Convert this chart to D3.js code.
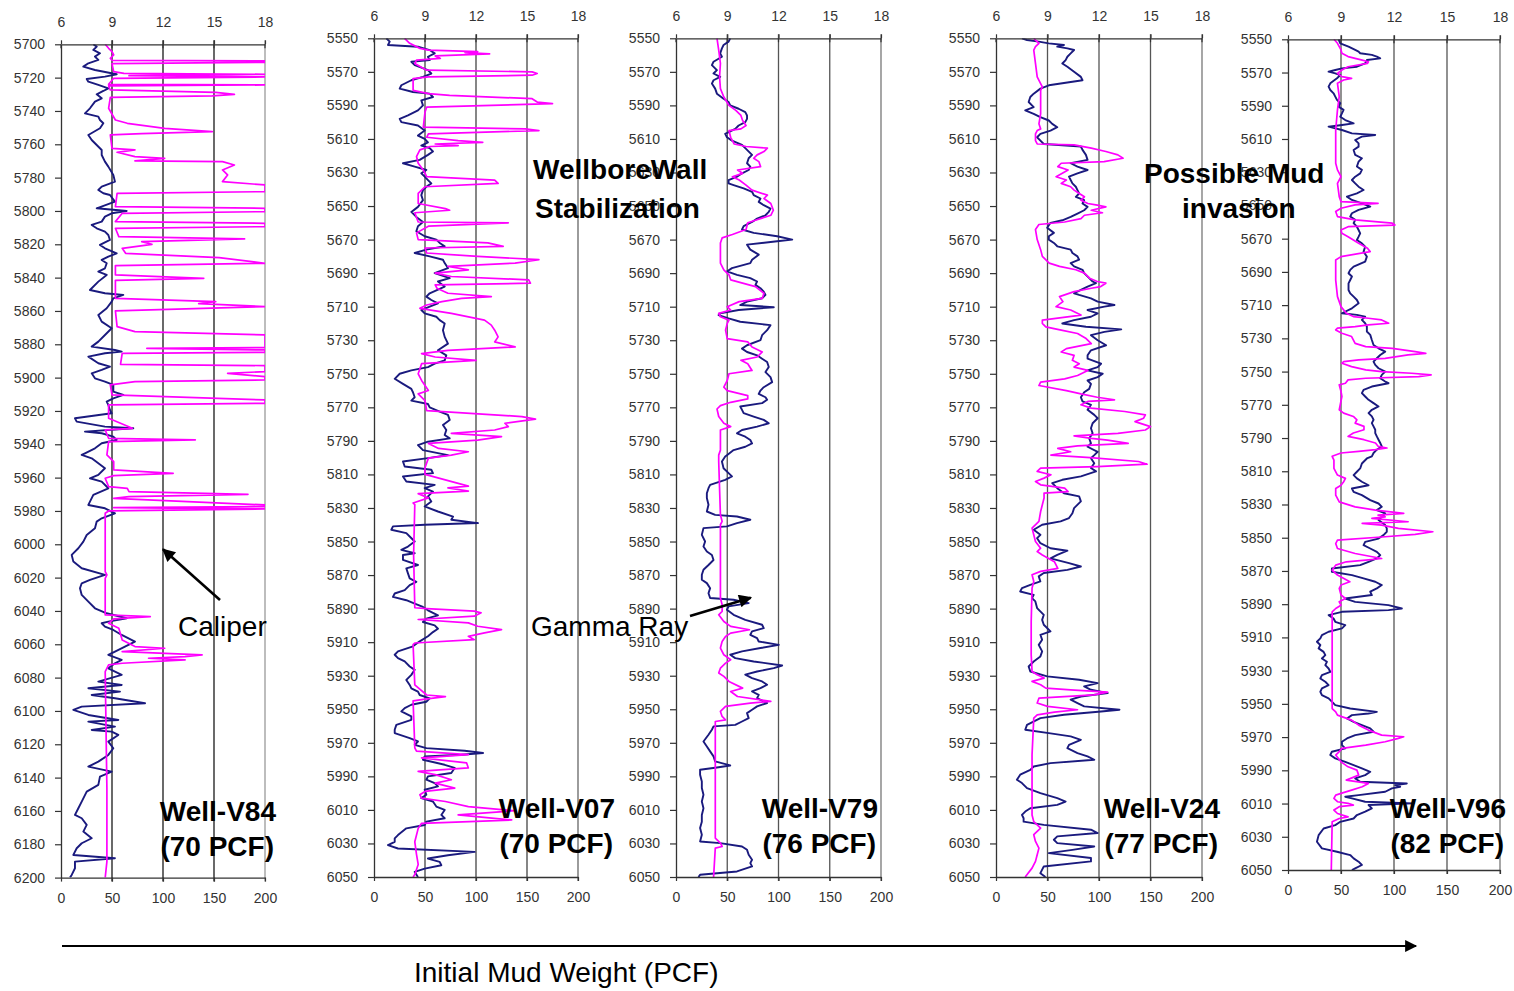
<!DOCTYPE html>
<html><head><meta charset="utf-8">
<script src="https://cdn.jsdelivr.net/npm/d3@7"></script>
<style>
body{margin:0;background:#fff}
svg{display:block}
text{font-family:"Liberation Sans",Arial,Helvetica,sans-serif}
</style>
</head><body>
<svg id="chart" width="1514" height="991"></svg>
<script>
// ---------------- DATA ----------------
const wellNames = ["Well-V84","Well-V07","Well-V79","Well-V24","Well-V96"];
const mudWeights = ["(70 PCF)","(70 PCF)","(76 PCF)","(77 PCF)","(82 PCF)"];
const depthTicksV84 = [5700,5720,5740,5760,5780,5800,5820,5840,5860,5880,5900,5920,5940,5960,5980,6000,6020,6040,6060,6080,6100,6120,6140,6160,6180,6200];
const depthTicksOther = [5550,5570,5590,5610,5630,5650,5670,5690,5710,5730,5750,5770,5790,5810,5830,5850,5870,5890,5910,5930,5950,5970,5990,6010,6030,6050];
const caliperTicks = [6,9,12,15,18];      // inches (top axis)
const gammaTicks = [0,50,100,150,200];    // API (bottom axis)

// [depth ft, caliper in]
const v84Caliper = [[5700,8.6],[5702.4,8.8],[5704.4,9.0],[5706.4,9.1],[5708.4,8.9],[5709.6,9.0],[5710,18],[5710.8,18],[5711.6,9.0],[5716.4,9.1],[5717.4,9.7],[5718,18],[5718.8,10.0],[5719.6,18],[5720.4,9.1],[5724,8.8],[5724.4,18],[5725,8.8],[5727.4,8.9],[5728.8,15.1],[5730,16.2],[5731,14.9],[5731.8,8.9],[5738.4,8.8],[5745.4,9.2],[5747.4,9.9],[5750.4,12.1],[5752.4,14.9],[5753.6,10.75],[5754.4,8.9],[5762.4,9.0],[5763.4,10.35],[5764.8,9.3],[5767.4,10.35],[5768.4,12.1],[5770,10.35],[5770.4,15.5],[5772.4,16.2],[5775.4,15.5],[5778.4,15.8],[5782.4,15.5],[5784.4,18],[5788.4,18],[5789.4,9.3],[5797.4,9.2],[5798.4,18],[5800.4,18],[5801.4,9.6],[5806.4,9.2],[5807.4,18],[5809.4,18],[5810.4,9.2],[5815.4,9.4],[5816.8,16.8],[5818.4,10.75],[5820,11.35],[5822.4,9.6],[5825.4,9.8],[5828,15.3],[5831.4,18],[5832.8,9.2],[5838.4,9.2],[5840.4,14.4],[5841.6,9.2],[5852.4,9.2],[5854.4,15.1],[5855.6,14.1],[5857.4,18],[5860,9.2],[5869.4,9.3],[5872.4,10.35],[5874.4,18],[5882,18],[5882.4,11.05],[5883.4,18],[5884.8,18],[5885.4,9.6],[5892,9.5],[5892.8,18],[5896.4,18],[5897.4,15.8],[5899.4,18],[5901.4,18],[5902.4,10.35],[5904.4,8.9],[5910.4,9.0],[5913.4,18],[5915.4,18],[5916.4,8.8],[5924.4,8.8],[5930.4,10.2],[5931.4,8.6],[5936.4,8.8],[5937.4,13.9],[5938.4,8.8],[5946.4,8.7],[5950.4,9.1],[5955.4,9.1],[5957.4,12.6],[5958.8,9.1],[5960.4,8.6],[5965.4,8.8],[5966.4,9.9],[5968.4,10.0],[5970,17.0],[5971.4,10.0],[5972.4,9.1],[5976.4,18],[5977.4,18],[5978,9.1],[5978.8,18],[5980,8.8],[5981.4,8.6],[6016.4,8.6],[6018.4,8.7],[6020.4,8.6],[6042.4,8.6],[6043.4,11.25],[6044.8,9.1],[6047.4,8.8],[6050.4,9.4],[6057.4,9.6],[6061.4,10.35],[6062.4,12.1],[6064.4,9.6],[6066.4,14.3],[6067.4,13.3],[6068.4,11.15],[6069.4,13.3],[6071.4,9.6],[6072.4,8.8],[6076.4,8.6],[6146.4,8.7],[6190.4,8.7],[6200,8.6]];
// [depth ft, gamma API]
const v84Gamma = [[5700,31.7],[5701.4,35],[5703.4,31.7],[5705.4,38.2],[5707.4,33.3],[5709.4,36.6],[5711.4,26.8],[5713.4,21.9],[5715.4,33.3],[5718,54.6],[5719.4,43.1],[5720.8,25.2],[5722.4,26.8],[5724.4,36.6],[5726.4,46.4],[5728,41.5],[5730,35],[5732.4,39.9],[5734.4,33.3],[5738.4,28.4],[5741.4,23.5],[5743.4,36.6],[5745.4,38.2],[5747.4,41.5],[5750.4,38.2],[5754.4,26.8],[5757.4,30.1],[5760.4,35],[5763.4,39.9],[5766.4,39.9],[5770.4,43.1],[5773.4,46.4],[5778.4,51.3],[5782.4,52.9],[5785.4,39.9],[5787.4,36.6],[5789.4,41.5],[5790.4,48],[5794.4,52.9],[5798.4,35],[5800,64.4],[5801.4,49.7],[5803.4,43.1],[5806.4,39.9],[5808.4,30.1],[5810.4,35],[5812.4,43.1],[5814.4,46.4],[5817.4,48],[5820.4,38.2],[5822.4,43.1],[5825.4,54.6],[5827.4,46.4],[5829.4,39.9],[5831.4,44.8],[5834.4,43.1],[5836.4,36.6],[5838.4,44.8],[5842.4,36.6],[5847.4,28.4],[5849.4,43.1],[5850.4,61.1],[5852.4,51.3],[5854.4,49.7],[5858.4,44.8],[5862.4,36.6],[5866.4,39.9],[5870.4,49.7],[5874.4,43.1],[5878.4,36.6],[5881.4,30.1],[5883.4,52.9],[5884.4,59.5],[5885.4,43.1],[5887.4,26.8],[5891.4,36.6],[5893.4,48],[5895.4,39.9],[5897.4,30.1],[5900.4,33.3],[5902.4,43.1],[5904.4,51.3],[5908.4,51.3],[5910.4,61.1],[5912.4,51.3],[5914.4,44.8],[5916.4,46.4],[5919.4,48],[5921.4,49.7],[5924.4,13.7],[5926.4,15.4],[5929.4,43.1],[5930.4,70.9],[5932.4,23.5],[5933.4,39.9],[5935.4,51.3],[5937.4,54.6],[5939.4,39.9],[5942.4,33.3],[5945.4,23.5],[5946.4,20.3],[5948.4,30.1],[5954.4,43.1],[5958.4,36.6],[5960.4,28.4],[5962.4,39.9],[5966.4,46.4],[5970.4,31.7],[5976.4,26.8],[5978.4,43.1],[5981.4,52.9],[5984.4,39.9],[5986.4,35],[5990.4,33.3],[5994.4,25.2],[5998.4,21.9],[6002.4,17],[6006.4,10.5],[6010.4,12.1],[6014.4,20.3],[6018.4,43.1],[6021.4,28.4],[6023.4,20.3],[6026.4,18.6],[6030.4,20.3],[6034.4,26.8],[6038.4,33.3],[6041.4,44.8],[6044.4,64.4],[6046.4,46.4],[6047.4,39.9],[6049.4,43.1],[6051.4,51.3],[6054.4,59.5],[6058.4,72.5],[6061.4,62.7],[6064.4,52.9],[6066.4,46.4],[6069.4,59.5],[6071.4,52.9],[6074.4,46.4],[6078.4,59.5],[6082.4,36.6],[6084.4,59.5],[6086.4,26.8],[6088.4,57.8],[6090.4,30.1],[6092.4,52.9],[6095.4,82.4],[6097.4,20.3],[6099.4,12.1],[6102.4,26.8],[6105.4,56.2],[6106.4,26.8],[6109.4,52.9],[6111.4,30.1],[6112.4,49.7],[6114.4,56.2],[6118.4,46.4],[6122.4,51.3],[6126.4,46.4],[6130.4,36.6],[6133.4,26.8],[6136.4,49.7],[6139.4,38.2],[6144.4,36.6],[6148.4,25.2],[6154.4,20.3],[6158.4,17],[6162.4,13.7],[6164.4,20.3],[6168.4,25.2],[6172.4,21.9],[6176.4,30.1],[6179.4,20.3],[6182.4,15.4],[6186.4,12.1],[6188.4,52.9],[6190.4,13.7],[6194.4,13.7],[6198.4,10.5],[6200,8.8]];

const v07Caliper = [[5550,7.8],[5553,8.1],[5556,8.7],[5557,9.2],[5558,12.1],[5558.5,11.35],[5559.3,12.8],[5560.5,9.6],[5562,9.9],[5563,8.5],[5565,8.4],[5569,9.1],[5570,15.3],[5571,15.6],[5572,15.3],[5573,9.2],[5574,8.3],[5581,8.3],[5583,9.2],[5584,10.45],[5586,15.3],[5588,15.6],[5589,16.5],[5591,9.1],[5594,9.0],[5603,8.9],[5604,14.9],[5605,15.7],[5607,9.2],[5609,9.1],[5611,10.95],[5612,12.4],[5613,9.6],[5614,10.95],[5614.5,9.3],[5616.5,8.7],[5620.5,8.5],[5624.5,8.6],[5628.5,8.9],[5632.5,9.1],[5634.5,13.1],[5636.5,13.3],[5638.5,9.0],[5642.5,8.6],[5648.5,8.6],[5651.5,10.2],[5652.5,10.45],[5654,8.4],[5659.5,8.6],[5660,13.9],[5662,9.2],[5666,8.5],[5670,8.6],[5672,12.7],[5674,13.6],[5675,9.0],[5678,9.1],[5680,12.1],[5682,15.7],[5684,14.3],[5686,10.35],[5688,11.55],[5690,9.6],[5692,10.55],[5694,15.1],[5696,15.2],[5697,9.6],[5699,9.7],[5702,10.35],[5704,12.9],[5705,11.15],[5707,10.0],[5709,9.1],[5711,8.7],[5714,10.55],[5718,12.5],[5721,12.9],[5724,13.1],[5728,13.3],[5731,13.1],[5734,14.3],[5736,10.35],[5738,8.8],[5740,9.6],[5742,12.0],[5744,8.8],[5750,8.6],[5754,8.8],[5760,9.2],[5762,8.6],[5766,9.0],[5772,9.1],[5775.5,14.7],[5777,15.5],[5779.5,13.7],[5781.5,13.9],[5783.5,13.1],[5785.5,10.55],[5787.5,13.5],[5789.5,12.1],[5791.5,9.2],[5794.5,9.8],[5796.5,11.55],[5798.5,10.55],[5800.3,9.2],[5806,9.0],[5810,9.0],[5817,11.55],[5818,10.35],[5820,11.55],[5821.5,8.6],[5824,9.2],[5827,8.3],[5828,8.4],[5858,8.33],[5889.5,8.4],[5890,9.1],[5891.5,11.9],[5892.5,12.3],[5894.5,11.9],[5896.5,8.6],[5898.5,11.55],[5900.5,12.1],[5902.5,13.5],[5904.5,12.5],[5906.5,11.55],[5908.5,11.9],[5910.5,8.4],[5911.5,8.3],[5935.5,8.4],[5941.5,9.1],[5942.5,10.2],[5944,9.0],[5945,8.3],[5973,8.4],[5975,8.5],[5977,11.55],[5979,8.8],[5982,11.45],[5985,11.55],[5987,8.6],[5989,9.6],[5992,10.55],[5994,9.6],[5997,10.75],[5999,9.0],[6001,8.7],[6003,8.8],[6005,10.2],[6008,11.55],[6010.5,14.3],[6013,10.95],[6016,14.1],[6018,8.8],[6021,8.6],[6029,8.4],[6036.5,8.5],[6042.5,8.6],[6048.5,8.4],[6050,8.3]];
const v07Gamma = [[5550,12.1],[5552,15.4],[5554,13.7],[5555,43.1],[5557,54.6],[5559,59.5],[5561,52.9],[5563,54.6],[5564,36.6],[5566,39.9],[5569,52.9],[5571,56.2],[5573,48],[5575,36.6],[5578,26.8],[5580,25.2],[5582,38.2],[5583,54.6],[5585,57.8],[5587,46.4],[5590,48],[5593,43.1],[5596,33.3],[5598,25.2],[5600,26.8],[5602,43.1],[5605,49.7],[5608,43.1],[5610,49.7],[5612,52.9],[5614,46.4],[5615.5,54.6],[5617.5,57.8],[5619.5,52.9],[5622.5,44.8],[5624.5,28.4],[5626.5,39.9],[5628.5,51.3],[5630.5,46.4],[5632.5,49.7],[5634.5,52.9],[5636.5,56.2],[5638.5,51.3],[5640.5,48],[5643.5,46.4],[5646.5,48],[5650.5,43.1],[5653.5,36.6],[5656.5,41.5],[5659.5,48],[5662,43.1],[5665,41.5],[5668,49.7],[5670,61.1],[5672,64.4],[5674,69.3],[5676,51.3],[5678,39.9],[5680,54.6],[5682,67.6],[5684,69.3],[5687,72.5],[5690,59.5],[5693,74.2],[5695,62.7],[5698,69.3],[5702,54.6],[5704,51.3],[5706,56.2],[5708,62.7],[5710,54.6],[5712,46.4],[5714,49.7],[5716,61.1],[5718,64.4],[5720,69.3],[5724,67.6],[5728,69.3],[5732,72.5],[5736,62.7],[5739,70.9],[5742,69.3],[5744,59.5],[5746,52.9],[5748,36.6],[5750,25.2],[5753,20.3],[5756,28.4],[5759,36.6],[5761,38.2],[5764,39.9],[5766,36.6],[5768,52.9],[5770,54.6],[5772.5,64.4],[5774.5,72.5],[5777.5,74.2],[5780.5,67.6],[5783.5,70.9],[5786.5,69.3],[5788.5,74.2],[5790.5,52.9],[5792.5,43.1],[5795.5,48],[5798.5,72.5],[5800.3,52.9],[5802.3,28.4],[5805.3,30.1],[5807.2,56.2],[5809.2,57.8],[5811.2,28.4],[5814.2,31.7],[5816.2,59.5],[5818.2,49.7],[5820.2,57.8],[5823.1,52.9],[5826.1,56.2],[5829.1,49.7],[5832.1,62.7],[5835.1,77.5],[5837,75.8],[5839,102],[5840,49.7],[5841,18.6],[5843,17],[5845,31.7],[5847,35],[5850,39.9],[5853,33.3],[5855,26.8],[5857,39.9],[5858,28.4],[5861,28.4],[5864,43.1],[5866,31.7],[5869,33.3],[5872,35],[5874,41.5],[5876,35],[5879,30.1],[5881,20.3],[5883,18.6],[5885,31.7],[5887,39.9],[5889,48],[5891,52.9],[5894,62.7],[5896,51.3],[5898,48],[5900,59.5],[5902,62.7],[5904,57.8],[5906.5,52.9],[5909.5,44.8],[5912.5,38.2],[5915.5,23.5],[5917.5,20.3],[5919.5,23.5],[5921.5,30.1],[5924.5,35],[5926.5,39.9],[5929.5,36.6],[5932.5,31.7],[5935.5,35],[5937.5,36.6],[5939.5,43.1],[5941.5,44.8],[5943.5,54.6],[5945.5,51.3],[5947.3,36.6],[5949.3,30.1],[5951.3,26.8],[5954.3,36.6],[5956.3,36.6],[5959.3,21.9],[5962.2,20.3],[5964.2,20.3],[5967.2,35],[5969.2,43.1],[5971.2,39.9],[5973.2,51.3],[5974.7,88.9],[5976.1,106.9],[5977.1,85.6],[5978.1,49.7],[5980.1,48],[5983.1,69.3],[5985,79.1],[5988,75.8],[5990,52.9],[5992,51.3],[5994,59.5],[5996,62.7],[5998,49.7],[6001,51.3],[6003,46.4],[6005,57.8],[6008,61.1],[6010,69.3],[6013,66],[6015,69.3],[6017,51.3],[6019,49.7],[6021,31.7],[6025,23.5],[6027,20.3],[6029,20.3],[6031,13.7],[6033,23.5],[6035,98.7],[6037,72.5],[6039,52.9],[6041,64.4],[6043,66],[6045,49.7],[6047,39.9],[6050,43.1]];

const v79Caliper = [[5550,8.4],[5557,8.5],[5565,8.6],[5573,8.55],[5580,8.6],[5585,8.8],[5590,9.1],[5593,9.5],[5596,9.8],[5599,9.9],[5602,10.1],[5604,9.8],[5605,9.1],[5609,9.2],[5613,9.4],[5614.5,10.1],[5615.5,11.35],[5617.5,11.15],[5619.5,10.75],[5621.5,10.55],[5623.5,10.85],[5626.5,10.95],[5628.5,9.6],[5630.5,9.9],[5632.5,9.3],[5634.5,9.7],[5637.5,10.1],[5640.5,10.45],[5643.5,11.35],[5645.5,11.15],[5648.5,11.55],[5652.5,11.7],[5655.5,11.55],[5658.5,10.65],[5660,10.2],[5664,10.1],[5667,9.3],[5669,8.7],[5672,8.6],[5684,8.6],[5688,8.8],[5691,9.1],[5694,9.2],[5698,10.65],[5702,11.15],[5705,11.05],[5707,9.7],[5710,9.0],[5712,9.2],[5714,8.5],[5716,8.6],[5718,9.1],[5720,9.0],[5724,8.9],[5729,9.0],[5731,10.2],[5734,10.45],[5737,11.05],[5740,10.75],[5742,9.8],[5744,10.2],[5748,10.45],[5750,9.1],[5754,9.0],[5758,8.8],[5760,9.0],[5763,10.2],[5765,10.2],[5767,9.2],[5769,8.6],[5771,8.4],[5775.5,8.5],[5779.5,8.8],[5781.5,9.2],[5783.5,8.6],[5795.5,8.6],[5798.5,8.5],[5802.3,8.5],[5834,8.6],[5838,8.7],[5840,8.6],[5883.7,8.6],[5887.7,8.7],[5891.7,8.7],[5893.7,8.5],[5897.7,8.8],[5900.6,9.2],[5902.6,10.3],[5904.6,9.2],[5906.6,8.9],[5909.6,8.7],[5913.5,8.6],[5917.5,8.8],[5920.5,9.2],[5922.5,8.9],[5925.5,8.6],[5928.4,8.5],[5930.4,8.8],[5933.4,9.1],[5937.4,9.9],[5939.4,9.2],[5942.4,9.6],[5945.3,11.55],[5946.3,10.35],[5948.3,8.9],[5951.3,8.6],[5954.3,8.7],[5956.3,8.9],[5957.3,8.3],[6026.8,8.3],[6029.8,8.6],[6031.8,8.7],[6032.8,8.3],[6050,8.2]];
const v79Gamma = [[5550,52.9],[5552,51.3],[5554,46.4],[5556,44.8],[5559,43.1],[5561,44.8],[5564,36.6],[5566,35],[5569,39.9],[5571,36.6],[5573,43.1],[5575,36.6],[5577,35],[5580,38.2],[5583,39.9],[5586,46.4],[5588,51.3],[5590,52.9],[5592,61.1],[5594,67.6],[5596,69.3],[5598,69.3],[5600,67.6],[5602,61.1],[5604,57.8],[5607,48],[5609,49.7],[5611,54.6],[5613.5,64.4],[5616.5,69.3],[5619.5,74.2],[5621.5,70.9],[5624.5,69.3],[5626.5,72.5],[5628.5,70.9],[5630.5,64.4],[5632.5,59.5],[5634.5,51.3],[5636.5,51.3],[5637.5,56.2],[5639.5,66],[5641.5,74.2],[5643.5,75.8],[5645.5,82.4],[5647.5,80.7],[5649.5,85.6],[5651.5,92.2],[5653.5,90.5],[5655.5,87.3],[5657.5,79.1],[5659.5,74.2],[5662,66],[5664,64.4],[5666,75.8],[5668,98.7],[5670,113.4],[5671,98.7],[5673,69.3],[5676,72.5],[5679,80.7],[5682,74.2],[5684,72.5],[5687,54.6],[5689,49.7],[5691,59.5],[5693,72.5],[5695,79.1],[5697,77.5],[5699,82.4],[5701,85.6],[5703,87.3],[5705,84],[5707,69.3],[5709,62.7],[5710.3,95.4],[5712,61.1],[5714,43.1],[5715,41.5],[5717,51.3],[5719,62.7],[5721,92.2],[5724,88.9],[5727,84],[5730,82.4],[5733,69.3],[5735,64.4],[5737,69.3],[5739,79.1],[5741,84],[5743,88.9],[5746,90.5],[5749,87.3],[5752,92.2],[5755,93.8],[5758,85.6],[5760,82.4],[5762,80.7],[5764,87.3],[5765.5,88.9],[5767.5,84],[5769.5,62.7],[5771.5,64.4],[5773.5,66],[5775.5,75.8],[5777.5,85.6],[5779.5,90.5],[5781.5,79.1],[5783.5,64.4],[5785.5,59.5],[5787.5,67.6],[5789.5,72.5],[5791.5,74.2],[5793.5,67.6],[5795.5,56.2],[5798.5,49.7],[5799.3,48],[5802.3,44.8],[5806.3,46.4],[5809.2,51.3],[5811.2,54.6],[5813.2,48],[5816.2,33.3],[5818.2,31.7],[5821.2,30.1],[5824.1,30.1],[5828.1,31.7],[5832.1,30.1],[5834.1,38.2],[5835.1,59.5],[5837,72.5],[5839,59.5],[5841,49.7],[5842,26.8],[5846,25.2],[5850,28.4],[5853,26.8],[5856,30.1],[5858,35],[5861,36.6],[5864,31.7],[5866.8,26.8],[5869.8,25.2],[5872.8,25.2],[5874.8,30.1],[5877.8,33.3],[5880.8,31.7],[5883.7,33.3],[5884.7,56.2],[5886.7,70.9],[5888.7,51.3],[5890.7,49.7],[5893.7,56.2],[5896.7,67.6],[5899.6,84],[5901.6,85.6],[5903.6,74.2],[5905.6,72.5],[5907.6,79.1],[5909.6,80.7],[5911.6,100.3],[5913.5,82.4],[5915.5,64.4],[5917.5,52.9],[5919.5,57.8],[5921.5,75.8],[5923.9,103.6],[5925.5,95.4],[5927.5,79.1],[5929.4,67.6],[5931.4,74.2],[5933.4,84],[5935.4,88.9],[5937.4,82.4],[5939.4,74.2],[5941.4,80.7],[5943.4,79.1],[5945.3,85.6],[5946.3,88.9],[5948.3,79.1],[5950.3,74.2],[5952.3,69.3],[5955.3,70.9],[5957.3,64.4],[5959.3,57.8],[5960.2,36.6],[5962.2,35],[5965.2,31.7],[5969.2,26.8],[5972.2,30.1],[5975.1,33.3],[5978.1,36.6],[5981.1,38.2],[5983.5,52.9],[5984.7,39.9],[5986.1,23.5],[5989,23.5],[5993,25.2],[5997,25.2],[6001,26.8],[6005,25.2],[6009,26.8],[6013,25.2],[6017,25.2],[6020.8,23.5],[6024.8,25.2],[6028.8,23.5],[6029.8,43.1],[6031.8,64.4],[6033.8,69.3],[6036.7,70.9],[6039.7,74.2],[6041.7,72.5],[6043.7,74.2],[6046.7,59.5],[6048.7,23.5],[6050,21.9]];

const v24Caliper = [[5550,8.2],[5553,8.5],[5555,8.3],[5557,8.2],[5565,8.3],[5573,8.4],[5577,8.6],[5579,8.7],[5581,8.6],[5595,8.6],[5601,8.5],[5604,8.6],[5605,8.4],[5607,8.3],[5611,8.3],[5613,8.4],[5613.5,10.55],[5615.5,11.55],[5617.5,12.4],[5619.5,13.1],[5621.5,13.4],[5623.5,12.3],[5624.5,9.8],[5626.5,9.6],[5628.5,10.2],[5632.5,9.5],[5634.5,10.1],[5636.5,9.8],[5638.5,10.35],[5640.5,10.55],[5642.5,10.85],[5644.5,11.15],[5646.5,10.95],[5648.5,11.35],[5649.5,11.9],[5650.5,12.4],[5652.5,11.55],[5654,12.2],[5655.5,11.15],[5657.5,10.95],[5659.5,10.0],[5661,8.5],[5664,8.3],[5670,8.4],[5676,8.6],[5680,8.7],[5684,9.1],[5686,9.7],[5688,10.65],[5690,11.15],[5693,11.45],[5695,11.9],[5696,12.4],[5698,12.1],[5699,11.55],[5701,10.55],[5704,9.7],[5707,9.9],[5710,9.5],[5712,10.35],[5715,10.95],[5718,8.7],[5720,8.7],[5722,8.9],[5724,9.8],[5726,10.75],[5729,11.25],[5732,11.55],[5735,10.1],[5737,9.8],[5739,10.55],[5742,10.45],[5744,10.85],[5746,10.55],[5748,11.35],[5751,10.75],[5753,10.0],[5755,8.6],[5757,8.5],[5760,10.1],[5762,10.95],[5764,11.9],[5765.5,12.9],[5766.5,11.35],[5768.5,10.95],[5770.5,11.55],[5772.5,13.5],[5774.5,14.7],[5776.5,14.6],[5778.5,14.1],[5781.5,15.0],[5783.5,14.7],[5785.5,13.1],[5787,10.55],[5788.5,11.55],[5789.5,12.5],[5791.5,13.7],[5793,10.75],[5794.5,9.6],[5796.5,10.35],[5798.5,9.2],[5800,11.5],[5802.3,14.3],[5803.9,14.8],[5805.3,11.9],[5806.2,8.6],[5808.2,8.4],[5810.2,9.2],[5812.2,8.8],[5814.2,8.3],[5816.2,8.6],[5818.2,10.0],[5820.2,10.2],[5821.2,8.8],[5824.1,8.8],[5828.1,8.7],[5832.1,8.6],[5838,8.5],[5842,8.1],[5846,8.2],[5850,8.3],[5854,8.6],[5856,8.4],[5858,8.7],[5862,9.4],[5866,9.6],[5867.8,8.6],[5869.8,8.1],[5873.8,8.2],[5877.8,8.1],[5897.7,8.05],[5917.5,8.05],[5927.5,8.1],[5929.4,8.4],[5931.4,8.8],[5933.4,8.1],[5935.4,8.6],[5937.4,8.9],[5938.4,10.35],[5939.8,12.5],[5941.4,11.7],[5943.4,8.5],[5946.3,8.4],[5948.3,9.0],[5950.3,10.75],[5951.7,9.4],[5953.3,8.4],[5955.3,8.2],[5977.1,8.1],[5997,8.1],[6013,8.1],[6017,8.2],[6020.8,8.6],[6024.8,8.2],[6028.8,8.3],[6032.8,8.5],[6036.7,8.4],[6040.7,8.3],[6044.7,8.1],[6048.7,7.8],[6050,7.7]];
const v24Gamma = [[5550,25.2],[5551,30.1],[5552,41.5],[5553,51.3],[5554,66],[5555,59.5],[5556,69.3],[5557,75.8],[5559,72.5],[5561,69.3],[5563,67.6],[5565,64.4],[5567,69.3],[5570,75.8],[5573,82.4],[5575,84],[5578,51.3],[5580,43.1],[5583,36.6],[5585,33.3],[5588,31.7],[5591,36.6],[5593,28.4],[5595,36.6],[5597,43.1],[5599,51.3],[5601,54.6],[5603,59.5],[5605,52.9],[5607,43.1],[5609,39.9],[5611,43.1],[5613,46.4],[5614.5,82.4],[5616.5,84],[5619.5,87.3],[5622.5,88.9],[5624.5,72.5],[5626.5,79.1],[5628.5,88.9],[5630.5,79.1],[5632.5,70.9],[5634.5,72.5],[5636.5,74.2],[5638.5,77.5],[5640.5,79.1],[5642.5,80.7],[5644.5,77.5],[5646.5,85.6],[5648.5,84],[5650.5,88.9],[5652.5,85.6],[5654.5,79.1],[5656.5,72.5],[5658.5,64.4],[5660,52.9],[5663,49.7],[5666,56.2],[5668,51.3],[5670,51.3],[5672,56.2],[5674,59.5],[5676,72.5],[5678,74.2],[5680,79.1],[5682,80.7],[5684,72.5],[5686,75.8],[5688,84],[5690,85.6],[5693,90.5],[5695,93.8],[5696,97.1],[5698,88.9],[5700,82.4],[5702,75.8],[5703,80.7],[5705,92.2],[5707,98.7],[5709,115],[5710,105.2],[5712,88.9],[5714,98.7],[5716,92.2],[5718,75.8],[5720,64.4],[5722,87.3],[5723.5,121.6],[5725,105.2],[5727,92.2],[5730,98.7],[5733,106.9],[5736,92.2],[5739,88.9],[5741,88.9],[5744,102],[5746,98.7],[5748,88.9],[5750,103.6],[5752,98.7],[5754,88.9],[5756,92.2],[5759,90.5],[5761,85.6],[5764,82.4],[5766.5,84],[5768.5,92.2],[5771.5,88.9],[5774.5,95.4],[5776.5,98.7],[5779.5,93.8],[5782.5,92.2],[5785.5,93.8],[5788.5,90.5],[5791.5,92.2],[5793.5,88.9],[5796.5,98.7],[5798.5,95.4],[5800.3,92.2],[5803.3,95.4],[5806.2,92.2],[5808.2,97.1],[5811.2,82.4],[5813.2,64.4],[5815.2,54.6],[5818.2,59.5],[5821.2,66],[5823.1,80.7],[5826.1,82.4],[5830.1,75.8],[5833.1,74.2],[5836,70.9],[5838,62.7],[5840,44.8],[5843,36.6],[5846,43.1],[5848,39.9],[5851,43.1],[5854,52.9],[5855.5,69.3],[5858,59.5],[5860,52.9],[5862.9,70.9],[5864.9,82.4],[5866.9,69.3],[5868.8,46.4],[5870.8,41.5],[5873.8,43.1],[5875.8,33.3],[5877.8,25.2],[5879.8,23.5],[5881.8,36.6],[5883.7,35],[5885.7,38.2],[5889.7,39.9],[5893.7,46.4],[5896.7,44.8],[5899.6,46.4],[5903.6,52.9],[5905.6,43.1],[5908.6,44.8],[5911.6,41.5],[5915.5,44.8],[5918.5,43.1],[5921.5,36.6],[5924.5,31.7],[5927.5,33.3],[5930.4,49.7],[5932.4,80.7],[5934.4,98.7],[5936.4,85.6],[5938.4,92.2],[5940.4,108.5],[5942.4,82.4],[5944.3,72.5],[5946.3,79.1],[5948.3,85.6],[5950.3,119.9],[5951.3,102],[5953.3,66],[5955.3,43.1],[5959.3,30.1],[5962.2,28.4],[5964.2,51.3],[5966.2,72.5],[5968.2,82.4],[5971.2,70.9],[5973.2,69.3],[5976.1,79.1],[5978.1,88.9],[5980.1,95.4],[5982.1,52.9],[5984.1,36.6],[5986.1,33.3],[5989,23.5],[5992,20.3],[5994,25.2],[5997,30.1],[6000,43.1],[6003,59.5],[6005,67.6],[6007,59.5],[6009,33.3],[6011,28.4],[6013,25.2],[6015,26.8],[6017,26.8],[6018.9,46.4],[6021.8,92.2],[6023.8,98.7],[6025.8,59.5],[6027.8,56.2],[6029.8,59.5],[6031.8,95.4],[6033.8,74.2],[6035.8,51.3],[6038.7,92.2],[6040.7,92.2],[6043.7,46.4],[6047.7,43.1],[6050,48]];

const v96Caliper = [[5550,8.6],[5552.4,8.8],[5554.4,8.9],[5556.4,9.0],[5558.4,9.05],[5560.4,9.4],[5562.5,10.2],[5563.5,10.55],[5564.5,10.5],[5566.5,9.4],[5568.5,9.05],[5570.5,8.8],[5572.5,9.05],[5573.5,9.6],[5574.5,9.15],[5576.5,8.8],[5584.5,8.9],[5592.5,8.8],[5604.6,8.7],[5616.6,8.7],[5624.6,8.7],[5628.6,8.8],[5632.7,9.0],[5636.7,8.8],[5644.7,8.9],[5647.7,9.0],[5648.7,11.1],[5649.7,9.8],[5651.7,9.0],[5653.7,8.7],[5656.7,8.8],[5658.7,9.8],[5660.7,11.9],[5661.8,12.05],[5662.8,9.4],[5664.8,9.0],[5666.8,9.05],[5668.8,9.4],[5672.8,10.0],[5675.8,10.5],[5677.8,10.65],[5680.8,9.0],[5682.8,8.7],[5694.9,8.7],[5704.9,8.8],[5710.9,9.0],[5714.9,9.3],[5716.9,9.7],[5717.9,10.55],[5718.9,11.3],[5720.9,11.7],[5721.9,10.55],[5722.9,9.8],[5723.9,8.8],[5724.9,8.7],[5726.9,9.05],[5728.9,9.6],[5733,9.8],[5735,10.4],[5736,11.9],[5738,13.2],[5739,13.8],[5740,12.8],[5742,11.5],[5743,10.0],[5744,9.15],[5745,9.05],[5747,9.6],[5749,10.4],[5750,11.3],[5751,13.0],[5752,14.1],[5753,13.4],[5754,10.4],[5755,9.4],[5757,9.25],[5758,8.9],[5762,9.0],[5765,9.05],[5773,8.9],[5775,9.15],[5777,9.7],[5779,9.9],[5781,9.8],[5783,10.3],[5785,10.3],[5787,9.7],[5789,9.4],[5791,10.3],[5793,10.95],[5795,11.1],[5796,11.6],[5797,10.95],[5798,10.0],[5799,9.0],[5801,8.5],[5803.3,8.6],[5808.3,8.6],[5812.3,8.8],[5814.3,9.25],[5816.3,9.15],[5818.4,9.0],[5820.4,8.7],[5824.4,8.7],[5828.4,8.9],[5831.4,9.8],[5833.4,10.95],[5835.4,12.55],[5836.4,11.1],[5837.4,11.5],[5838.4,10.75],[5840.4,12.8],[5841.4,10.2],[5842.4,11.3],[5844.4,12.25],[5846.4,14.2],[5848,13.2],[5849.4,11.5],[5851.5,8.8],[5853.5,8.7],[5856.5,8.8],[5859.5,9.8],[5862.5,11.3],[5863.5,10.4],[5864.5,9.3],[5866.5,8.7],[5869.5,8.5],[5872.5,8.8],[5876.5,9.5],[5878.5,9.0],[5880.5,8.9],[5884.5,9.0],[5886.6,9.25],[5888.6,8.9],[5890.6,9.0],[5892.6,8.7],[5894.6,8.5],[5952.8,8.5],[5954.8,8.7],[5956.8,8.8],[5959.8,9.6],[5962.8,10.0],[5965.8,10.55],[5968.8,11.3],[5969.8,12.55],[5970.8,12.25],[5972.8,11.5],[5974.8,10.4],[5976.8,9.05],[5978.8,8.9],[5980.8,8.7],[5984.9,9.0],[5987.9,9.4],[5989.9,9.9],[5992.9,10.0],[5995.9,9.3],[5997.9,10.55],[5999.9,10.2],[6001.9,9.6],[6003.9,9.0],[6004.9,8.7],[6006.9,8.6],[6008.9,8.8],[6009.9,9.4],[6010.9,9.7],[6011.9,8.9],[6013.9,8.6],[6016,8.8],[6018,9.4],[6019,8.9],[6021,8.5],[6050,8.45]];
const v96Gamma = [[5550,47.7],[5552.4,49.3],[5554.4,57.1],[5556.4,63.4],[5557.4,66.6],[5558.4,68.1],[5559.4,79.1],[5560.4,83.8],[5561.5,87.0],[5562.5,74.4],[5564.5,72.8],[5566.5,65.0],[5567.5,50.9],[5568.5,44.6],[5569.5,38.3],[5570.5,44.6],[5571.5,49.3],[5573.5,46.2],[5576.5,39.9],[5578.5,38.3],[5580.5,39.9],[5582.5,43.0],[5584.5,44.6],[5586.5,46.2],[5588.5,49.3],[5590.5,47.7],[5592.5,52.4],[5594.6,50.9],[5596.6,49.3],[5598.6,54.0],[5600.6,61.9],[5601.6,50.9],[5602.6,38.3],[5604.6,50.9],[5606.6,60.3],[5607.6,82.3],[5608.6,69.7],[5610.6,63.4],[5612.6,66.6],[5614.6,66.6],[5616.6,61.9],[5619.6,63.4],[5621.6,69.7],[5623.6,66.6],[5626.6,65.0],[5628.6,69.7],[5630.7,68.1],[5632.7,63.4],[5634.7,60.3],[5636.7,63.4],[5638.7,66.6],[5640.7,71.3],[5642.7,65.0],[5644.7,55.6],[5646.7,60.3],[5648.7,69.7],[5650.7,77.6],[5652.7,66.6],[5654.7,60.3],[5656.7,58.7],[5658.7,63.4],[5660.7,61.9],[5662.8,65.0],[5664.8,66.6],[5666.8,68.1],[5668.8,66.6],[5670.8,65.0],[5672.8,69.7],[5674.8,72.8],[5677.8,71.3],[5680.8,74.4],[5683.8,72.8],[5686.8,61.9],[5688.8,58.7],[5690.8,57.1],[5692.8,60.3],[5694.9,58.7],[5696.9,57.1],[5700.9,57.1],[5702.9,58.7],[5704.9,61.9],[5706.9,65.0],[5708.9,66.6],[5711.9,60.3],[5714.9,50.9],[5715.9,65.0],[5716.9,72.8],[5718.9,69.7],[5720.9,72.8],[5722.9,74.4],[5725.9,74.4],[5727.9,77.6],[5731,79.1],[5734,80.7],[5736,85.4],[5738,91.7],[5740,87.0],[5742,83.8],[5744,80.7],[5746,82.3],[5748,85.4],[5750,91.7],[5752,88.5],[5754,87.0],[5756,91.7],[5757,94.8],[5759,79.1],[5761,71.3],[5763,69.7],[5765,72.8],[5767,76.0],[5769,80.7],[5771,85.4],[5773,79.1],[5775,76.0],[5777,79.1],[5779,80.7],[5781,79.1],[5783,80.7],[5785,82.3],[5787,82.3],[5789,83.8],[5791,85.4],[5793,87.0],[5795,88.5],[5797,83.8],[5799,80.7],[5801,79.1],[5802.3,74.4],[5805.3,69.7],[5808.3,68.1],[5810.3,65.0],[5812.3,61.9],[5814.3,65.0],[5816.3,69.7],[5818.4,76.0],[5820.4,60.3],[5822.4,61.9],[5824.4,69.7],[5827.4,77.6],[5829.4,85.4],[5831.4,88.5],[5833.4,83.8],[5835.4,91.7],[5837.4,88.5],[5839.4,85.4],[5842.4,91.7],[5844.4,93.2],[5846.4,93.2],[5848.4,90.1],[5850.5,85.4],[5852.5,72.8],[5854.5,71.3],[5856.5,77.6],[5858.5,83.8],[5860.5,87.0],[5862.5,83.8],[5864.5,76.0],[5866.5,68.1],[5868.5,41.4],[5870.5,41.4],[5872.5,60.3],[5874.5,71.3],[5876.5,82.3],[5878.5,88.5],[5880.5,83.8],[5882.5,77.6],[5884.5,79.1],[5886.6,54.0],[5888.6,63.4],[5890.6,94.8],[5892.6,107.4],[5893.6,94.8],[5894.6,50.9],[5896.6,38.3],[5898.6,43.0],[5900.6,44.6],[5902.6,54.0],[5904.6,50.9],[5906.6,38.3],[5908.6,32.0],[5910.6,30.5],[5912.6,27.3],[5914.6,30.5],[5916.6,28.9],[5918.7,33.6],[5920.7,35.2],[5922.7,32.0],[5924.7,36.7],[5926.7,35.2],[5928.7,38.3],[5930.7,39.9],[5932.7,32.0],[5934.7,30.5],[5936.7,35.2],[5938.7,38.3],[5940.7,32.0],[5942.7,30.5],[5944.7,32.0],[5946.7,38.3],[5948.7,41.4],[5950.8,44.6],[5952.8,58.7],[5954.8,83.8],[5955.8,76.0],[5956.8,60.3],[5958.8,55.6],[5960.8,61.9],[5962.8,69.7],[5964.8,77.6],[5966.8,80.7],[5968.8,63.4],[5970.8,55.6],[5972.8,50.9],[5974.8,50.9],[5976.8,54.0],[5978.8,41.4],[5980.8,39.9],[5982.8,44.6],[5984.9,54.0],[5986.9,61.9],[5988.9,69.7],[5990.9,77.6],[5992.9,72.8],[5994.9,63.4],[5996.9,68.1],[5997.9,112.1],[5998.9,101.1],[5999.9,105.8],[6000.9,98.0],[6002.9,91.7],[6004.9,66.6],[6005.9,54.0],[6006.9,60.3],[6008.9,72.8],[6009.9,118.4],[6010.9,76.0],[6012.9,79.1],[6014.9,72.8],[6016.9,65.0],[6019,61.9],[6021,49.3],[6023,44.6],[6025,33.6],[6029,28.9],[6033,27.3],[6037,32.0],[6039,46.2],[6041,58.7],[6043,61.9],[6045,66.6],[6047,69.7],[6049,63.4],[6050,60.3]];

const caliperSeries = [v84Caliper, v07Caliper, v79Caliper, v24Caliper, v96Caliper];
const gammaSeries = [v84Gamma, v07Gamma, v79Gamma, v24Gamma, v96Gamma];
const depthTickSets = [depthTicksV84, depthTicksOther, depthTicksOther, depthTicksOther, depthTicksOther];

// ---------------- LAYOUT / STYLE ----------------
const frames = [
  {left:61,  right:265,  top:44.3, bottom:877.6, grid:"#1a1a1a", edge:"#9a9a9a", labelRight:276,  labelY:821},
  {left:374, right:578,  top:38.3, bottom:877,   grid:"#444",    edge:"#666",    labelRight:615,  labelY:818},
  {left:676, right:881,  top:38.3, bottom:877,   grid:"#555",    edge:"#777",    labelRight:878,  labelY:818},
  {left:996, right:1202, top:38.3, bottom:877,   grid:"#555",    edge:"#777",    labelRight:1220, labelY:818},
  {left:1288,right:1500, top:39.3, bottom:870,   grid:"#555",    edge:"#777",    labelRight:1506, labelY:818}
];
const caliperColor = "#ff00ff";
const gammaColor = "#1a1a7e";
const axisColor = "#333";
const font = '"Liberation Sans", Arial, Helvetica, sans-serif';

const svg = d3.select("#chart");
const defs = svg.append("defs");
defs.append("marker").attr("id","ah").attr("viewBox","0 0 10 10").attr("refX",9).attr("refY",5)
  .attr("markerWidth",6).attr("markerHeight",5).attr("markerUnits","strokeWidth").attr("orient","auto")
  .append("path").attr("d","M0,0 L10,5 L0,10 Z").attr("fill","#000");
defs.append("marker").attr("id","ahb").attr("viewBox","0 0 10 10").attr("refX",9).attr("refY",5)
  .attr("markerWidth",7).attr("markerHeight",5.5).attr("markerUnits","strokeWidth").attr("orient","auto")
  .append("path").attr("d","M0,0 L10,5 L0,10 Z").attr("fill","#000");

const panelScales = [];

frames.forEach((f, i) => {
  const ticks = depthTickSets[i];
  const y = d3.scaleLinear().domain([ticks[0], ticks[ticks.length-1]]).range([f.top, f.bottom]);
  const xc = d3.scaleLinear().domain([caliperTicks[0], caliperTicks[caliperTicks.length-1]]).range([f.left, f.right]);
  const xg = d3.scaleLinear().domain([gammaTicks[0], gammaTicks[gammaTicks.length-1]]).range([f.left, f.right]);
  panelScales.push({y, xc, xg});
  const g = svg.append("g");

  // vertical grid lines
  g.selectAll("line.grid").data(caliperTicks.slice(1)).enter().append("line")
    .attr("x1", d => xc(d)).attr("x2", d => xc(d))
    .attr("y1", f.top - 4).attr("y2", f.bottom + 4)
    .attr("stroke", (d, k) => k === caliperTicks.length - 2 ? f.edge : f.grid)
    .attr("stroke-width", 1.3);

  // clip
  defs.append("clipPath").attr("id", "clip" + i).append("rect")
    .attr("x", f.left).attr("y", f.top).attr("width", f.right - f.left).attr("height", f.bottom - f.top);

  const lineG = d3.line().x(d => xg(d[1])).y(d => y(d[0]));
  const lineC = d3.line().x(d => xc(d[1])).y(d => y(d[0]));
  const plot = g.append("g").attr("clip-path", `url(#clip${i})`);
  plot.append("path").datum(gammaSeries[i]).attr("d", lineG)
    .attr("fill","none").attr("stroke", gammaColor).attr("stroke-width",1.9).attr("stroke-linejoin","round");
  plot.append("path").datum(caliperSeries[i]).attr("d", lineC)
    .attr("fill","none").attr("stroke", caliperColor).attr("stroke-width",1.7).attr("stroke-linejoin","round");

  // axes
  const left = g.append("g").attr("transform", `translate(${f.left},0)`)
    .call(d3.axisLeft(y).tickValues(ticks).tickSize(6).tickSizeOuter(0).tickPadding(10).tickFormat(d3.format("d")));
  const top = g.append("g").attr("transform", `translate(0,${f.top})`)
    .call(d3.axisTop(xc).tickValues(caliperTicks).tickSize(4).tickSizeOuter(0).tickPadding(13).tickFormat(d3.format("d")));
  const bot = g.append("g").attr("transform", `translate(0,${f.bottom})`)
    .call(d3.axisBottom(xg).tickValues(gammaTicks).tickSize(4).tickSizeOuter(0).tickPadding(11).tickFormat(d3.format("d")));
  [left, top, bot].forEach(a => {
    a.selectAll("path.domain").attr("stroke", axisColor).attr("stroke-width", 1.3);
    a.selectAll(".tick line").attr("stroke", axisColor).attr("stroke-width", 1.2);
    a.selectAll(".tick text").attr("fill", "#333").style("font-family", font).style("font-size", "14px");
  });
  // crossing tick segments inside the top axis
  g.selectAll("line.tin").data(caliperTicks).enter().append("line")
    .attr("x1", d => xc(d)).attr("x2", d => xc(d)).attr("y1", f.top).attr("y2", f.top + 4)
    .attr("stroke", axisColor).attr("stroke-width", 1.2);

  // well label
  g.append("text").attr("x", f.labelRight).attr("y", f.labelY).attr("text-anchor","end")
    .style("font-family", font).style("font-size","28px").style("font-weight","bold").attr("fill","#000")
    .text(wellNames[i]);
  g.append("text").attr("x", f.labelRight - 2).attr("y", f.labelY + 35).attr("text-anchor","end")
    .style("font-family", font).style("font-size","28px").style("font-weight","bold").attr("fill","#000")
    .text(mudWeights[i]);
});

// ---------------- ANNOTATIONS ----------------
const ann = svg.append("g").style("font-family", font).attr("fill", "#000");
function txt(x, y, s, bold, anchor) {
  ann.append("text").attr("x", x).attr("y", y).attr("text-anchor", anchor || "start")
    .style("font-size", "28px").style("font-weight", bold ? "bold" : "normal").text(s);
}
txt(533, 179, "WellboreWall", true);
txt(535, 218, "Stabilization", true);
txt(1144, 183, "Possible Mud", true);
txt(1182, 218, "invasion", true);
txt(178, 636, "Caliper", false);
txt(531, 636, "Gamma Ray", false);
txt(414, 982, "Initial Mud Weight (PCF)", false);

// Caliper arrow -> points at caliper 12 in, depth 6003 ft in Well-V84
const s0 = panelScales[0];
ann.append("line").attr("x1", 220).attr("y1", 600)
  .attr("x2", s0.xc(12)).attr("y2", s0.y(6003))
  .attr("stroke", "#000").attr("stroke-width", 2.6).attr("marker-end", "url(#ah)");
// Gamma Ray arrow -> points at gamma 73 API, depth 5883 ft in Well-V79
const s2 = panelScales[2];
ann.append("line").attr("x1", 690).attr("y1", 616)
  .attr("x2", s2.xg(73)).attr("y2", s2.y(5883.5))
  .attr("stroke", "#000").attr("stroke-width", 2.6).attr("marker-end", "url(#ah)");
// Bottom arrow
ann.append("line").attr("x1", 62).attr("y1", 946).attr("x2", 1416).attr("y2", 946)
  .attr("stroke", "#000").attr("stroke-width", 2.2).attr("marker-end", "url(#ahb)");
</script>
</body></html>
